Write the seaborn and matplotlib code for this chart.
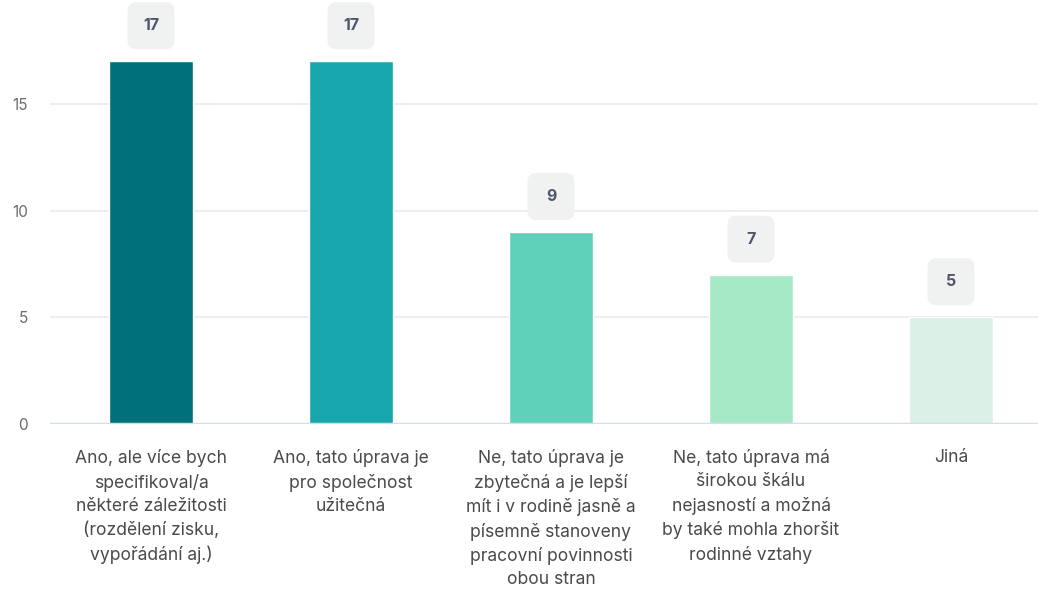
import numpy as np
import pandas as pd
import matplotlib
matplotlib.use("Agg")
import matplotlib.pyplot as plt
from matplotlib.patches import FancyBboxPatch
import seaborn as sns

# data
categories = [
    "Ano, ale více bych\nspecifikoval/a\nněkteré záležitosti\n(rozdělení zisku,\nvypořádání aj.)",
    "Ano, tato úprava je\npro společnost\nužitečná",
    "Ne, tato úprava je\nzbytečná a je lepší\nmít i v rodině jasně a\npísemně stanoveny\npracovní povinnosti\nobou stran",
    "Ne, tato úprava má\nširokou škálu\nnejasností a možná\nby také mohla zhoršit\nrodinné vztahy",
    "Jiná",
]
counts = [17, 17, 9, 7, 5]
colors = ["#00707B", "#18A7AD", "#5FD1B8", "#A6E9C7", "#DBF0E6"]
yticks = [0, 5, 10, 15]

df = pd.DataFrame({"answer": categories, "count": counts})

sns.set_style("white")
plt.rcParams["font.family"] = ["Inter", "DejaVu Sans"]

fig = plt.figure(figsize=(10.38, 5.9), dpi=100)
ax = fig.add_axes([50 / 1038, 166 / 590, 988 / 1038, 424 / 590])

sns.barplot(data=df, x="answer", y="count", hue="answer", palette=colors,
            legend=False, width=0.42, saturation=1, ax=ax)

ax.set_xlim(-0.505, 4.435)
ax.set_ylim(0, 19.875)
ax.set_yticks(yticks)
ax.yaxis.grid(True, color="#E9EBEE", lw=1.2)
ax.set_axisbelow(True)
for s in ax.spines.values():
    s.set_visible(False)
ax.axhline(0, color="#D5DCEA", lw=2.5, zorder=1)

ax.set_xlabel("")
ax.set_ylabel("")
ax.tick_params(axis="x", length=0, pad=18, labelsize=12.6, labelcolor="#4A4A4A")
ax.tick_params(axis="y", length=0, pad=16, labelsize=11, labelcolor="#6B6B6B")
for t in ax.get_xticklabels():
    t.set_linespacing(1.47)

# value boxes above bars (47 px square, 12 px above the bar)
px_x = 1 / 200
px_y = 1 / 21.33
bw, bh, gap = 47 * px_x, 47 * px_y, 12 * px_y
for i, v in enumerate(counts):
    box = FancyBboxPatch((i - bw / 2, v + gap), bw, bh,
                         boxstyle="round,pad=0,rounding_size=0.045",
                         mutation_aspect=200 / 21.33,
                         fc="#F0F2F2", ec="none", clip_on=False, zorder=3)
    ax.add_patch(box)
    ax.text(i, v + gap + bh / 2, str(v), ha="center", va="center",
            fontsize=11.5, fontweight="bold", color="#4F566B", zorder=4)

fig.savefig("out.png", dpi=100)
